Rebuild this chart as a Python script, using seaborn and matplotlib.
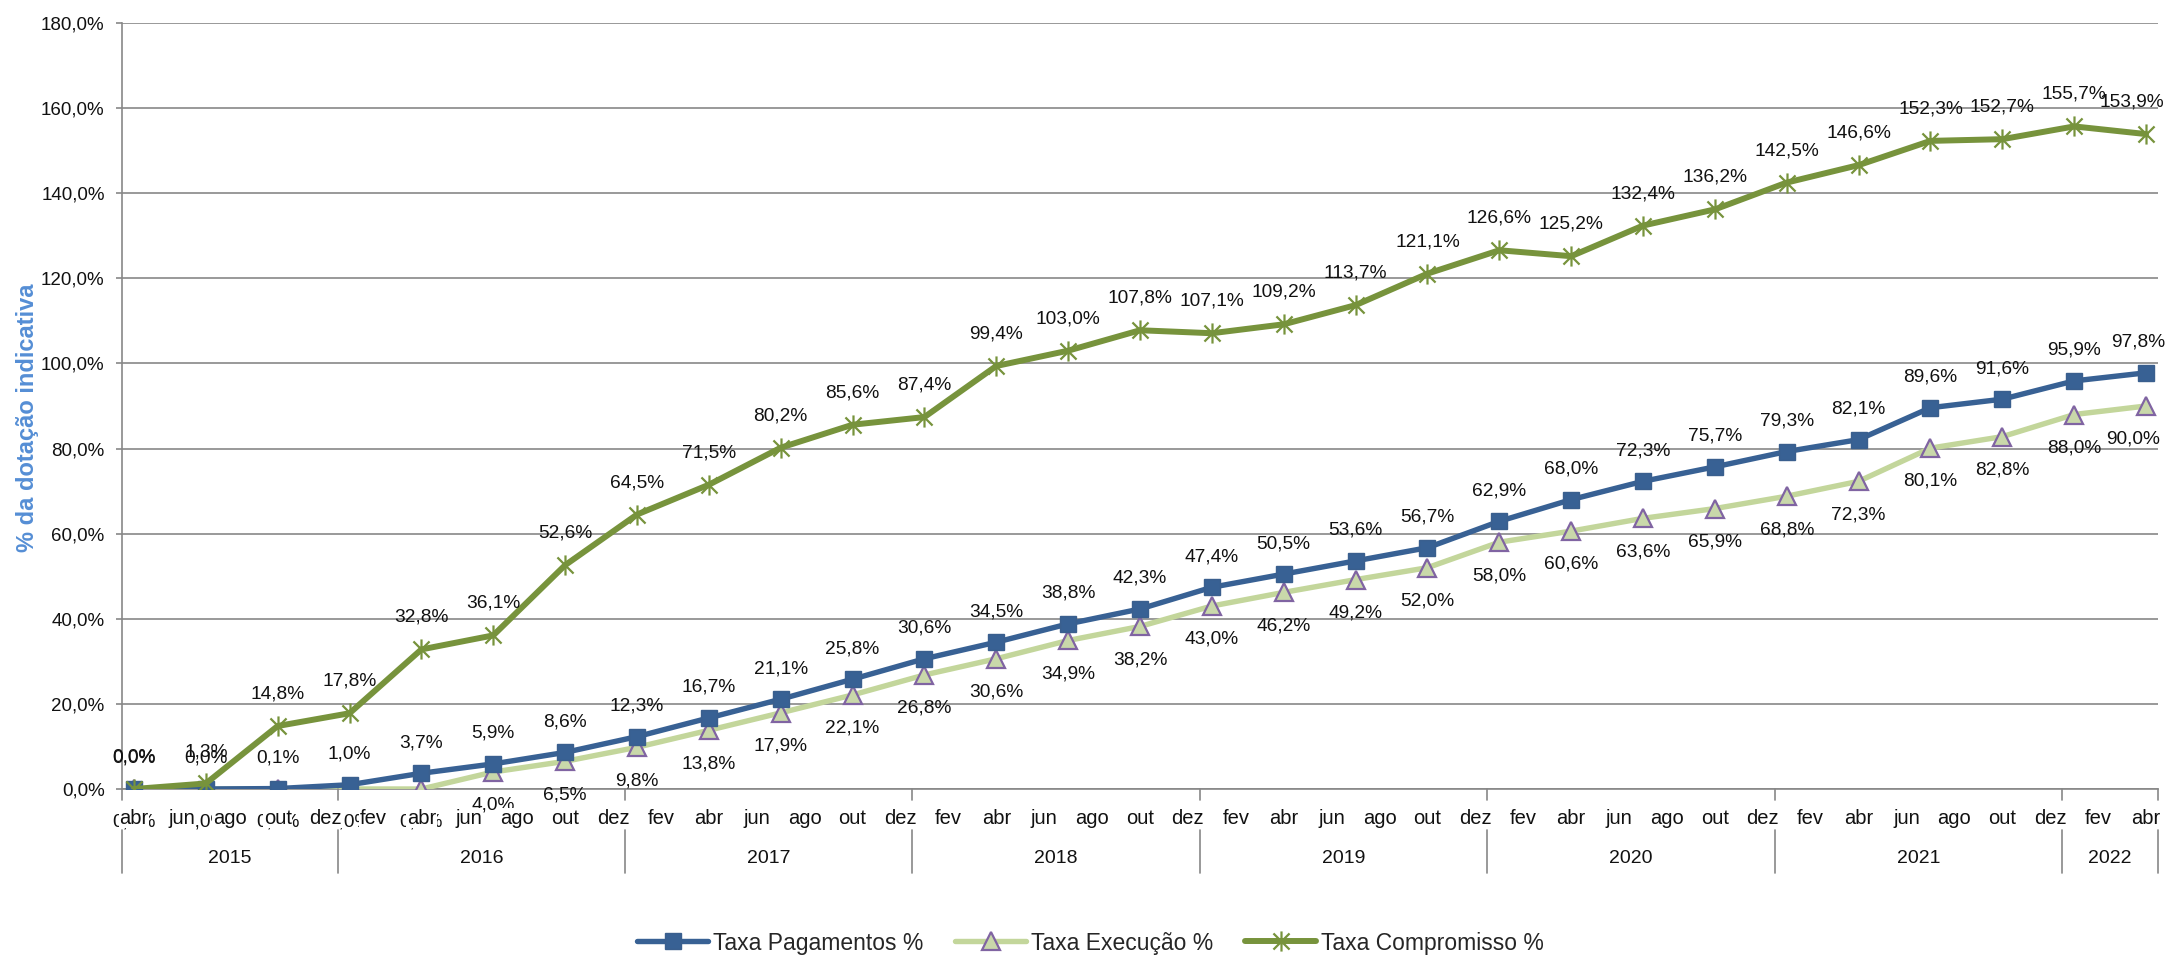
import matplotlib
matplotlib.use('Agg')
import matplotlib.pyplot as plt
import matplotlib.transforms as mtransforms
from matplotlib.path import Path
from matplotlib.lines import Line2D
import seaborn as sns
import pandas as pd

# ---------------- data ----------------
quarters = ['2015-04', '2015-07', '2015-10', '2016-01', '2016-04', '2016-07', '2016-10',
            '2017-01', '2017-04', '2017-07', '2017-10', '2018-01', '2018-04', '2018-07',
            '2018-10', '2019-01', '2019-04', '2019-07', '2019-10', '2020-01', '2020-04',
            '2020-07', '2020-10', '2021-01', '2021-04', '2021-07', '2021-10', '2022-01',
            '2022-04']

taxa_pagamentos = [0.0, 0.0, 0.1, 1.0, 3.7, 5.9, 8.6, 12.3, 16.7, 21.1, 25.8, 30.6, 34.5, 38.8,
                   42.3, 47.4, 50.5, 53.6, 56.7, 62.9, 68.0, 72.3, 75.7, 79.3, 82.1, 89.6, 91.6,
                   95.9, 97.8]
taxa_execucao = [0.0, 0.0, 0.0, 0.0, 0.0, 4.0, 6.5, 9.8, 13.8, 17.9, 22.1, 26.8, 30.6, 34.9,
                 38.2, 43.0, 46.2, 49.2, 52.0, 58.0, 60.6, 63.6, 65.9, 68.8, 72.3, 80.1, 82.8,
                 88.0, 90.0]
taxa_compromisso = [0.0, 1.3, 14.8, 17.8, 32.8, 36.1, 52.6, 64.5, 71.5, 80.2, 85.6, 87.4, 99.4,
                    103.0, 107.8, 107.1, 109.2, 113.7, 121.1, 126.6, 125.2, 132.4, 136.2, 142.5,
                    146.6, 152.3, 152.7, 155.7, 153.9]

month_labels = ['abr', 'jun', 'ago', 'out', 'dez',
                'fev', 'abr', 'jun', 'ago', 'out', 'dez',
                'fev', 'abr', 'jun', 'ago', 'out', 'dez',
                'fev', 'abr', 'jun', 'ago', 'out', 'dez',
                'fev', 'abr', 'jun', 'ago', 'out', 'dez',
                'fev', 'abr', 'jun', 'ago', 'out', 'dez',
                'fev', 'abr', 'jun', 'ago', 'out', 'dez',
                'fev', 'abr']
years = ['2015', '2016', '2017', '2018', '2019', '2020', '2021', '2022']
months_in_year = [9, 12, 12, 12, 12, 12, 12, 4]

y_ticks = [0, 20, 40, 60, 80, 100, 120, 140, 160, 180]

series_names = ['Taxa Pagamentos %', 'Taxa Execução %', 'Taxa Compromisso %']

# month index relative to April 2015
def month_index(q):
    y, m = q.split('-')
    return (int(y) - 2015) * 12 + int(m) - 4

x_idx = [month_index(q) for q in quarters]
df = pd.DataFrame({'x': x_idx, 'pag': taxa_pagamentos, 'exe': taxa_execucao, 'com': taxa_compromisso})

# ---------------- style ----------------
sns.set_theme(style='white')
plt.rcParams['font.family'] = ['Liberation Sans', 'DejaVu Sans']

W, H = 2172, 955
fig = plt.figure(figsize=(W / 100, H / 100), dpi=100)
ax_left, ax_right, ax_top, ax_bottom = 122, 2158, 23, 789
ax = fig.add_axes([ax_left / W, 1 - ax_bottom / H, (ax_right - ax_left) / W, (ax_bottom - ax_top) / H])

grid_c = '#878787'
c_pag = '#386194'
c_exe = '#C3D69B'
c_exe_edge = '#8064A2'
c_com = '#77933C'
txt_c = '#111111'

star = Path([(0, -1), (0, 1), (-0.8, -0.8), (0.8, 0.8), (-0.8, 0.8), (0.8, -0.8)],
            [Path.MOVETO, Path.LINETO, Path.MOVETO, Path.LINETO, Path.MOVETO, Path.LINETO])

for yv in y_ticks:
    ax.axhline(yv, color=grid_c, lw=1.2, zorder=0.5)

sns.lineplot(data=df, x='x', y='exe', ax=ax, color=c_exe, lw=3.9, marker='^', markersize=12.5,
             markerfacecolor='#C9D8AA', markeredgecolor=c_exe_edge, markeredgewidth=1.6,
             estimator=None, errorbar=None, zorder=3, label=series_names[1])
sns.lineplot(data=df, x='x', y='pag', ax=ax, color=c_pag, lw=3.9, marker='s', markersize=12,
             markerfacecolor=c_pag, markeredgecolor='#3A5F8E', markeredgewidth=1,
             estimator=None, errorbar=None, zorder=4, label=series_names[0])
sns.lineplot(data=df, x='x', y='com', ax=ax, color=c_com, lw=4.3, marker=star, markersize=14.5,
             markeredgecolor=c_com, markeredgewidth=1.6,
             estimator=None, errorbar=None, zorder=4, label=series_names[2])
if ax.get_legend() is not None:
    ax.get_legend().remove()

total_months = sum(months_in_year)
ax.set_xlim(-0.5, total_months - 0.5)
ax.set_ylim(0, 180)
ax.set_yticks(y_ticks)
ax.set_yticklabels([f"{v:.1f}%".replace('.', ',') for v in y_ticks])
ax.set_xticks([])
ax.set_xlabel('')
ax.set_ylabel('')
for s in ['top', 'right']:
    ax.spines[s].set_visible(False)
for s in ['left', 'bottom']:
    ax.spines[s].set_color(grid_c)
    ax.spines[s].set_linewidth(1.2)
ax.tick_params(axis='y', left=True, length=4.5, width=1.2, color=grid_c, pad=8,
               labelsize=13.5, labelcolor=txt_c)

def fmt(v):
    return f"{v:.1f}%".replace('.', ',')

last = len(x_idx) - 1
lab_fs = 13.8
# data labels
for i, (xi, v) in enumerate(zip(df['x'], df['exe'])):
    dx = -9 if i == last else 0
    ax.annotate(fmt(v), (xi, v), xytext=(dx, -24), textcoords='offset points', ha='center',
                va='center', fontsize=lab_fs, color=txt_c, zorder=5, annotation_clip=False)
for i, (xi, v) in enumerate(zip(df['x'], df['pag'])):
    dx = -6 if i == last else 0
    ax.annotate(fmt(v), (xi, v), xytext=(dx, 22), textcoords='offset points', ha='center',
                va='center', fontsize=lab_fs, color=txt_c, zorder=5, annotation_clip=False)
for i, (xi, v) in enumerate(zip(df['x'], df['com'])):
    dx = -10 if i == last else 0
    ax.annotate(fmt(v), (xi, v), xytext=(dx, 23), textcoords='offset points', ha='center',
                va='center', fontsize=lab_fs, color=txt_c, zorder=5, annotation_clip=False)

# category axis (months + years)
trans = mtransforms.blended_transform_factory(ax.transData, ax.transAxes)
ah = ax_bottom - ax_top
def ay(px):
    return (ax_bottom - px) / ah

for i, lab in enumerate(month_labels):
    ax.text(2 * i, ay(818), lab, transform=trans, ha='center', va='center', fontsize=14.5,
            color=txt_c, zorder=10, clip_on=False,
            bbox=dict(facecolor='white', edgecolor='none', pad=0.5))

start = -0.5
bounds = [start]
for yname, n in zip(years, months_in_year):
    ax.text(start + n / 2, ay(858), yname, transform=trans, ha='center', va='center',
            fontsize=14, color=txt_c, zorder=10, clip_on=False)
    start += n
    bounds.append(start)
for b in bounds:
    for y0, y1 in [(789, 800), (830, 873)]:
        ax.add_line(Line2D([b, b], [ay(y0), ay(y1)], transform=trans, color=grid_c, lw=1.2,
                           clip_on=False, zorder=10))

# y label
fig.text(28 / W, 1 - 418 / H, '% da dotação indicativa', rotation=90, ha='center', va='center',
         fontsize=17, fontweight='bold', color='#558ED5')

# legend
handles = [
    Line2D([], [], color=c_pag, lw=3.9, marker='s', markersize=12, markerfacecolor=c_pag,
           markeredgecolor='#3A5F8E'),
    Line2D([], [], color=c_exe, lw=3.9, marker='^', markersize=12.5, markerfacecolor='#C9D8AA',
           markeredgecolor=c_exe_edge, markeredgewidth=1.6),
    Line2D([], [], color=c_com, lw=4.3, marker=star, markersize=14.5, markeredgecolor=c_com,
           markeredgewidth=1.6),
]
fig.legend(handles, series_names, loc='center', bbox_to_anchor=(0.502, 12 / H), ncol=3,
           frameon=False, fontsize=16.5, handlelength=3.1, handletextpad=0.2,
           columnspacing=1.4, borderaxespad=0, borderpad=0)

fig.savefig('out.png', dpi=100)
